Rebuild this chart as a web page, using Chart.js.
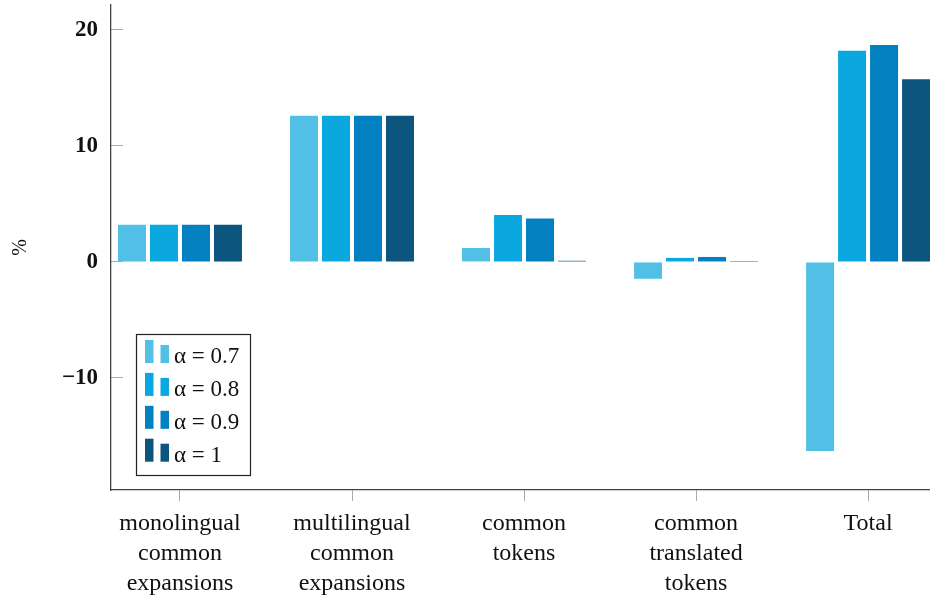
<!DOCTYPE html>
<html>
<head>
<meta charset="utf-8">
<script src="https://cdn.jsdelivr.net/npm/chart.js@4"></script>
<style>
  html, body { margin: 0; padding: 0; background: #fff; overflow: hidden; }
  #wrap { width: 930px; height: 595px; }
</style>
</head>
<body>
<div id="wrap"><canvas id="chart" width="930" height="595"></canvas></div>
<script>
const categories = [
  ['monolingual', 'common', 'expansions'],
  ['multilingual', 'common', 'expansions'],
  ['common', 'tokens'],
  ['common', 'translated', 'tokens'],
  ['Total']
];
const alphaLabels = ['α = 0.7', 'α = 0.8', 'α = 0.9', 'α = 1'];
const alpha07 = [3.2, 12.6, 1.2, -1.45, -16.3];
const alpha08 = [3.2, 12.6, 4.05, 0.35, 18.2];
const alpha09 = [3.2, 12.6, 3.75, 0.43, 18.7];
const alpha10 = [3.2, 12.6, 0.1, 0.08, 15.75];
const yTicks = [-10, 0, 10, 20];

const colors = ['#52c0e6', '#0aa8df', '#0280bf', '#0c557f'];
const SERIF = '"Liberation Serif", "DejaVu Serif", serif';

const series = [alpha07, alpha08, alpha09, alpha10];
const datasets = series.map((vals, k) => ({
  label: alphaLabels[k],
  data: vals.map((v, i) => ({ x: i, y: v })),
  backgroundColor: colors[k],
  borderWidth: 0,
  categoryPercentage: 0.744,
  barPercentage: 0.875
}));

// legend box drawn inside the plot, lower left
const boxLegend = {
  id: 'boxLegend',
  afterDraw(chart) {
    const ctx = chart.ctx;
    const x0 = 136.5, y0 = 334.5, w = 114, h = 141;
    ctx.save();
    ctx.strokeStyle = '#222';
    ctx.lineWidth = 1.2;
    ctx.strokeRect(x0, y0, w, h);
    ctx.font = '23px ' + SERIF;
    ctx.textBaseline = 'middle';
    chart.data.datasets.forEach((ds, i) => {
      const bottom = 363 + i * 32.9;
      ctx.fillStyle = ds.backgroundColor;
      ctx.fillRect(145, bottom - 23, 8.5, 23);
      ctx.fillRect(160.5, bottom - 18, 8.5, 18);
      ctx.fillStyle = '#111';
      ctx.fillText(ds.label, 174, bottom - 6);
    });
    ctx.restore();
  }
};

new Chart(document.getElementById('chart'), {
  type: 'bar',
  data: { datasets },
  options: {
    responsive: false,
    animation: false,
    layout: { padding: { top: 5, right: 0, left: 0, bottom: 0 } },
    plugins: { legend: { display: false }, tooltip: { enabled: false } },
    scales: {
      x: {
        type: 'linear',
        min: -0.401,
        max: 4.36,
        offset: false,
        afterFit: s => { s.height = 105; s.paddingLeft = 0; s.paddingRight = 0; },
        afterBuildTicks: s => { s.ticks = categories.map((c, i) => ({ value: i })); },
        grid: { offset: false, drawOnChartArea: false, tickLength: 11, color: '#aaa', lineWidth: 1 },
        border: { color: '#444', width: 1.3 },
        ticks: {
          padding: 8,
          color: '#111',
          maxRotation: 0,
          autoSkip: false,
          font: { family: SERIF, size: 24, lineHeight: 1.25 },
          callback: v => categories[v]
        }
      },
      y: {
        min: -19.66,
        max: 22.15,
        afterFit: s => { s.width = 111; s.paddingTop = 0; s.paddingBottom = 0; },
        afterBuildTicks: s => { s.ticks = yTicks.map(v => ({ value: v })); },
        grid: { drawOnChartArea: false, tickLength: -12, color: '#aaa', lineWidth: 1 },
        border: { color: '#444', width: 1.3 },
        ticks: {
          padding: 25,
          color: '#111',
          font: { family: SERIF, size: 23, weight: 'bold' },
          callback: v => (v < 0 ? '\u2212' + Math.abs(v) : String(v))
        },
        title: {
          display: true,
          text: '%',
          color: '#111',
          padding: { top: 9, bottom: 0 },
          font: { family: SERIF, size: 20, lineHeight: 1.2 }
        }
      }
    }
  },
  plugins: [boxLegend]
});
</script>
</body>
</html>
